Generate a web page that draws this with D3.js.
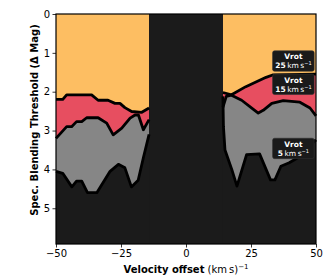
<!DOCTYPE html>
<html>
<head>
<meta charset="utf-8">
<script src="https://cdn.jsdelivr.net/npm/d3@7"></script>
<style>
  body { margin: 0; background: #fff; }
  svg { display: block; font-family: "DejaVu Sans", sans-serif; }
</style>
</head>
<body>
<svg width="332" height="277"></svg>
<script>

// velocity offsets (km/s) and thresholds (delta mag)
const left25 = [[-50, 2.2], [-47.4, 2.2], [-45.9, 2.08], [-36.3, 2.08], [-33.8, 2.22], [-30, 2.22],
  [-27.3, 2.3], [-25.4, 2.3], [-23.5, 2.41], [-20.9, 2.51], [-17, 2.53], [-14.2, 2.42]];
const left15 = [[-50, 3.2], [-45.9, 2.9], [-44, 2.9], [-42.1, 2.77], [-40.1, 2.77], [-38.2, 2.67],
  [-33.8, 2.67], [-30.5, 2.81], [-28, 3.11], [-24.7, 2.94], [-21.5, 2.68], [-19.6, 2.6],
  [-18.3, 2.6], [-16.4, 2.98], [-14.2, 2.72]];
const left5 = [[-50, 4.05], [-47.4, 4.1], [-43.9, 4.45], [-42.1, 4.3], [-40.1, 4.3], [-37.9, 4.6],
  [-34.3, 4.6], [-29.2, 4.05], [-26, 3.87], [-23.5, 3.96], [-21, 4.45], [-18.4, 4.28],
  [-16.4, 3.7], [-14.2, 3.1]];

const right25 = [[14.2, 2.02], [17.5, 2.08], [23, 1.87], [30.8, 1.63], [33.3, 1.57], [50, 1.55]];
const right15 = [[14.2, 2.4], [15.5, 2.12], [17.5, 2.09], [21.4, 2.22], [25.3, 2.42], [27.8, 2.55],
  [29.7, 2.48], [33, 2.3], [37.4, 2.23], [43.8, 2.27], [47.7, 2.42], [50, 2.62]];
const right5 = [[14.2, 2.12], [14.4, 2.9], [15, 3.5], [17.6, 4.0], [19.6, 4.43], [23.3, 3.62],
  [28.3, 3.6], [32.5, 4.27], [34.2, 4.27], [36.5, 3.92], [39.7, 3.83], [43, 3.7], [45.8, 3.5],
  [50, 3.24]];

const bandEdge = 14.2;

const labelSpeeds = [25, 15, 5];
const labelMags = [1.21, 1.81, 3.46];
const labelVel = 41.3;

const xTicks = [-50, -25, 0, 25, 50];
const yTicks = [0, 1, 2, 3, 4, 5];

const colors = {orange: "#fdbe62", red: "#e74e60", gray: "#868686", dark: "#1b1b1b"};

const svg = d3.select("svg");

const x = d3.scaleLinear().domain([-50, 50]).range([56, 316]);
const y = d3.scaleLinear().domain([0, 5.92]).range([14, 244]);

// background = region below the 5 km/s curve
svg.append("rect")
  .attr("x", x(-50)).attr("y", y(0))
  .attr("width", x(50) - x(-50)).attr("height", y(5.92) - y(0))
  .style("fill", colors.dark)

const area = d3.area().x(d => x(d[0])).y0(y(0)).y1(d => y(d[1]));
const line = d3.line().x(d => x(d[0])).y(d => y(d[1]));

// stacked from the top: gray to 5, red to 15, orange to 25
const layers = [
  {segs: [left5, right5], color: colors.gray},
  {segs: [left15, right15], color: colors.red},
  {segs: [left25, right25], color: colors.orange}
];

layers.forEach(l => {
  svg.selectAll(null).data(l.segs).enter().append("path")
    .attr("d", area)
    .style("fill", l.color)
    .style("stroke", "none")
})

// central excluded band
svg.append("rect")
  .attr("x", x(-bandEdge)).attr("y", y(0))
  .attr("width", x(bandEdge) - x(-bandEdge)).attr("height", y(5.92) - y(0))
  .style("fill", colors.dark)

// curve outlines
svg.selectAll(".curve").data([left25, left15, left5, right25, right15, right5])
  .enter().append("path")
    .attr("class", "curve")
    .attr("d", line)
    .style("fill", "none")
    .style("stroke", "#000")
    .style("stroke-width", 2.8)
    .style("stroke-linejoin", "round")

// frame
svg.append("rect")
  .attr("x", x(-50)).attr("y", y(0))
  .attr("width", x(50) - x(-50)).attr("height", y(5.92) - y(0))
  .style("fill", "none")
  .style("stroke", "#000")
  .style("stroke-width", 1.2)

// labels
const lab = svg.selectAll(".lab").data(labelSpeeds.map((s, i) => ({s, m: labelMags[i]})))
  .enter().append("g")
    .attr("class", "lab")
    .attr("transform", d => `translate(${x(labelVel)},${y(d.m)})`)

lab.append("rect")
  .attr("x", -20.8).attr("y", -10.2)
  .attr("width", 41.6).attr("height", 20.4)
  .attr("rx", 2)
  .style("fill", "#1a1a1a")
  .style("stroke", "#333")
  .style("stroke-width", 0.6)

lab.append("text")
  .attr("y", -1.8)
  .attr("text-anchor", "middle")
  .style("font-size", "7.5px")
  .style("font-weight", "bold")
  .style("fill", "#fff")
  .text("Vrot")

const l2 = lab.append("text")
  .attr("y", 7.2)
  .attr("text-anchor", "middle")
  .style("font-size", "7.5px")
  .style("fill", "#fff")
l2.append("tspan").style("font-weight", "bold").text(d => d.s)
l2.append("tspan").text("\u2009km\u2009s")
l2.append("tspan").attr("dy", -3).style("font-size", "5px").text("\u22121")

// axes
const xAxis = svg.append("g")
  .attr("transform", `translate(0,${y(5.92)})`)
  .call(d3.axisBottom(x).tickValues(xTicks).tickSize(3.5).tickPadding(2.5)
    .tickFormat(d => d < 0 ? "\u2212" + Math.abs(d) : d))
const yAxis = svg.append("g")
  .attr("transform", `translate(${x(-50)},0)`)
  .call(d3.axisLeft(y).tickValues(yTicks).tickSize(3.5).tickPadding(2.5).tickFormat(d3.format("d")))

;[xAxis, yAxis].forEach(a => {
  a.select(".domain").remove()
  a.selectAll("text").style("font-size", "10px").style("font-family", "DejaVu Sans").style("fill", "#000")
  a.selectAll("line").style("stroke", "#000").style("stroke-width", 0.8)
})

// axis titles
const xt = svg.append("text")
  .attr("x", 186).attr("y", 273)
  .attr("text-anchor", "middle")
  .style("font-size", "10px")
xt.append("tspan").style("font-weight", "bold").text("Velocity offset")
xt.append("tspan").text(" (km\u2009s)")
xt.append("tspan").attr("dy", -4).style("font-size", "7px").text("\u22121")

svg.append("text")
  .attr("transform", "translate(38,120) rotate(-90)")
  .attr("text-anchor", "middle")
  .style("font-size", "10px")
  .style("font-weight", "bold")
  .text("Spec. Blending Threshold (\u0394 Mag)")

</script>
</body>
</html>
